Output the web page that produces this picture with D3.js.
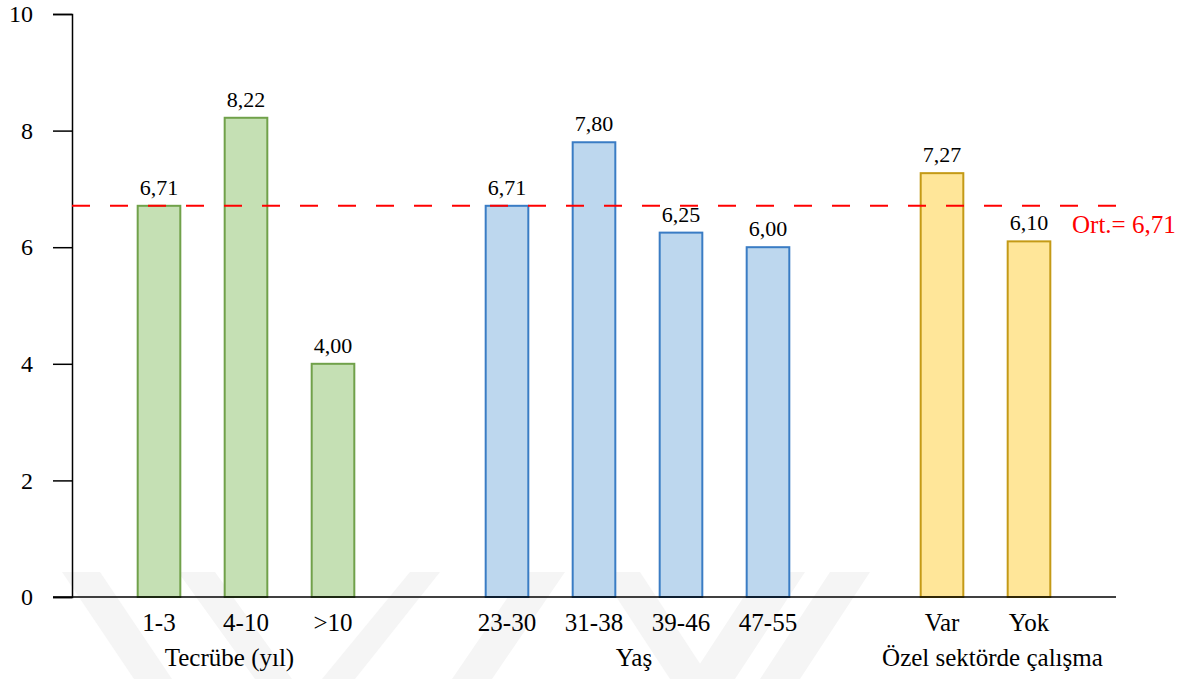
<!DOCTYPE html>
<html>
<head>
<meta charset="utf-8">
<script src="https://cdn.jsdelivr.net/npm/d3@7"></script>
<style>
  html, body { margin: 0; padding: 0; background: #ffffff; }
</style>
</head>
<body>
<div id="chart"></div>
<script>
// ---- data ----
const tecrubeCats = ["1-3", "4-10", ">10"];
const tecrubeVals = [6.71, 8.22, 4.00];
const yasCats = ["23-30", "31-38", "39-46", "47-55"];
const yasVals = [6.71, 7.80, 6.25, 6.00];
const ozelCats = ["Var", "Yok"];
const ozelVals = [7.27, 6.10];
const groupLabels = ["Tecrübe (yıl)", "Yaş", "Özel sektörde çalışma"];
const averageValue = 6.71;
const averageLabel = "Ort.= 6,71";
const yTicks = [0, 2, 4, 6, 8, 10];

// ---- layout ----
const W = 1189, H = 679;
const mLeft = 72, mRight = 1116, mTop = 14, mBottom = 597;
const FF = "Liberation Serif";

const svg = d3.select("#chart").append("svg").attr("width", W).attr("height", H);

// faint background watermark
const wm = svg.append("g").attr("fill", "#f5f5f5");
const wmShapes = [
  [[62,572],[100,572],[172,679],[134,679]],
  [[178,572],[215,572],[292,679],[255,679]],
  [[410,572],[440,572],[355,679],[322,679]],
  [[525,572],[565,572],[492,679],[452,679]],
  [[600,572],[640,572],[710,679],[670,679]],
  [[760,572],[805,572],[735,679],[690,679]],
  [[830,572],[870,572],[800,679],[760,679]]
];
wmShapes.forEach(p => wm.append("polygon").attr("points", p.map(q => q.join(",")).join(" ")));

const slots = [...tecrubeCats, "__gap1", ...yasCats, "__gap2", ...ozelCats];
const x = d3.scalePoint().domain(slots).range([mLeft, mRight]).padding(1);
const step = x.step();
const y = d3.scaleLinear().domain([0, 10]).range([mBottom, mTop]);

const groups = [
  { cats: tecrubeCats, vals: tecrubeVals, fill: "#c5e0b4", stroke: "#70a14a" },
  { cats: yasCats, vals: yasVals, fill: "#bdd7ee", stroke: "#3a7cc4" },
  { cats: ozelCats, vals: ozelVals, fill: "#ffe699", stroke: "#c49a16" }
];

const barW = step * 0.49;
const fmt = v => v.toFixed(2).replace(".", ",");

// y axis
const yAxis = d3.axisLeft(y).tickValues(yTicks).tickSize(19).tickPadding(20).tickFormat(d3.format("d"));
const gy = svg.append("g").attr("transform", `translate(${mLeft},0)`).call(yAxis);
gy.attr("font-family", FF);
gy.select(".domain").attr("stroke", "#000").attr("stroke-width", 1.5);
gy.selectAll(".tick line").attr("stroke", "#000").attr("stroke-width", 1.5);
gy.selectAll(".tick text").attr("font-family", FF).attr("font-size", 24).attr("fill", "#000");

// bars
groups.forEach(g => {
  const data = g.cats.map((c, i) => ({ c, v: g.vals[i] }));
  svg.append("g").selectAll("rect").data(data).join("rect")
    .attr("x", d => x(d.c) - barW / 2)
    .attr("y", d => y(d.v))
    .attr("width", barW)
    .attr("height", d => y(0) - y(d.v))
    .attr("fill", g.fill)
    .attr("stroke", g.stroke)
    .attr("stroke-width", 2);
  svg.append("g").selectAll("text").data(data).join("text")
    .attr("x", d => x(d.c))
    .attr("y", d => y(d.v) - 11)
    .attr("text-anchor", "middle")
    .attr("font-family", FF)
    .attr("font-size", 22)
    .attr("fill", "#000")
    .text(d => fmt(d.v));
  svg.append("g").selectAll("text").data(g.cats).join("text")
    .attr("x", d => x(d))
    .attr("y", 631)
    .attr("text-anchor", "middle")
    .attr("font-family", FF)
    .attr("font-size", 25)
    .attr("fill", "#000")
    .text(d => d);
});

// x axis line
svg.append("line")
  .attr("x1", mLeft - 19).attr("x2", mRight)
  .attr("y1", y(0)).attr("y2", y(0))
  .attr("stroke", "#000").attr("stroke-width", 1.5);

// group labels
const groupCenters = [
  x(tecrubeCats[1]) - step * 0.19,
  (x(yasCats[1]) + x(yasCats[2])) / 2 - step * 0.04,
  (x(ozelCats[0]) + x(ozelCats[1])) / 2 + step * 0.08
];
svg.append("g").selectAll("text").data(groupLabels).join("text")
  .attr("x", (d, i) => groupCenters[i])
  .attr("y", 666)
  .attr("text-anchor", "middle")
  .attr("font-family", FF)
  .attr("font-size", 25)
  .attr("fill", "#000")
  .text(d => d);

// average line
svg.append("line")
  .attr("x1", mLeft).attr("x2", mRight)
  .attr("y1", y(averageValue)).attr("y2", y(averageValue))
  .attr("stroke", "#ff0000").attr("stroke-width", 2)
  .attr("stroke-dasharray", "18,20");
svg.append("text")
  .attr("x", 1072).attr("y", 233)
  .attr("font-family", FF)
  .attr("font-size", 25)
  .attr("fill", "#ff0000")
  .text(averageLabel);
</script>
</body>
</html>
